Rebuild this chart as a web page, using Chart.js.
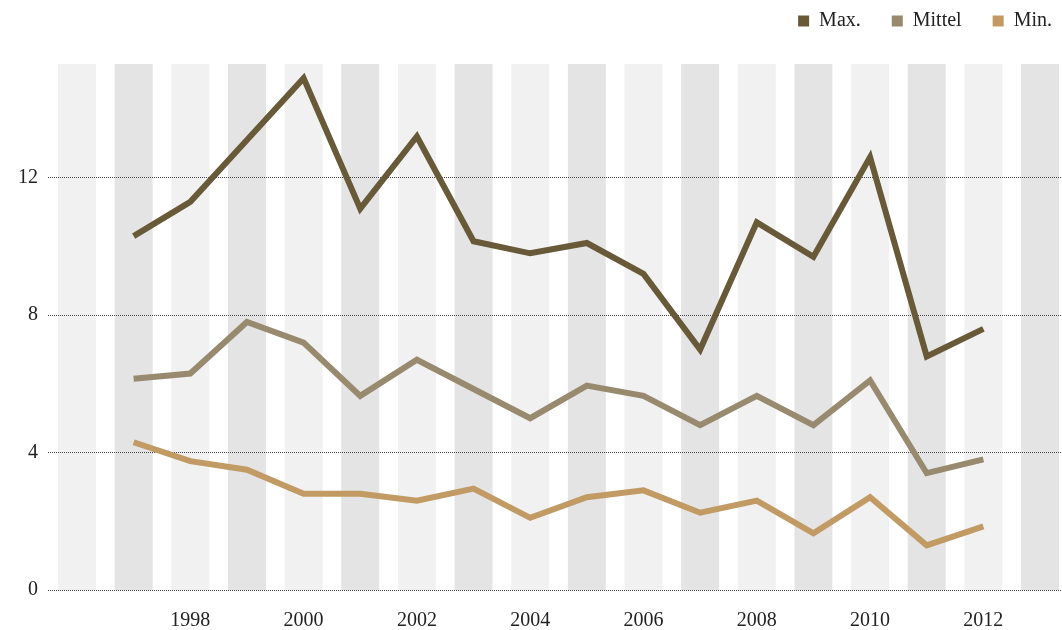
<!DOCTYPE html>
<html>
<head>
<meta charset="utf-8">
<script src="https://cdn.jsdelivr.net/npm/chart.js@4/dist/chart.umd.min.js"></script>
<style>
  html, body { margin: 0; padding: 0; background: #fff; }
  #wrap { width: 1062px; height: 630px; position: relative; }
</style>
</head>
<body>
<div id="wrap"><canvas id="tempChart"></canvas></div>
<script>
// データ
const years = [1997, 1998, 1999, 2000, 2001, 2002, 2003, 2004, 2005, 2006, 2007, 2008, 2009, 2010, 2011, 2012];
const maxValues = [10.3, 11.3, 13.1, 14.9, 11.1, 13.2, 10.15, 9.8, 10.1, 9.2, 7.0, 10.7, 9.7, 12.6, 6.8, 7.6];
const meanValues = [6.15, 6.3, 7.8, 7.2, 5.65, 6.7, 5.85, 5.0, 5.95, 5.65, 4.8, 5.65, 4.8, 6.1, 3.4, 3.8];
const minValues = [4.3, 3.75, 3.5, 2.8, 2.8, 2.6, 2.95, 2.1, 2.7, 2.9, 2.25, 2.6, 1.65, 2.7, 1.3, 1.85];
const bandYears = [1996, 1997, 1998, 1999, 2000, 2001, 2002, 2003, 2004, 2005, 2006, 2007, 2008, 2009, 2010, 2011, 2012, 2013];
const xTickYears = [1998, 2000, 2002, 2004, 2006, 2008, 2010, 2012];
const yTickValues = [0, 4, 8, 12];
const bandTop = 15.31;

const serif = "'Liberation Serif', 'DejaVu Serif', serif";
const textColor = '#222';

// 縦の帯（年ごと、奇数年は濃いグレー）
const bandsPlugin = {
    id: 'yearBands',
    beforeDraw(chart) {
        const { ctx, scales: { x, y } } = chart;
        const half = 0.335;
        ctx.save();
        bandYears.forEach(yr => {
            const left = x.getPixelForValue(yr - half);
            const right = x.getPixelForValue(yr + half);
            const top = y.getPixelForValue(bandTop);
            const bottom = y.getPixelForValue(0);
            ctx.fillStyle = yr % 2 === 1 ? '#e4e4e4' : '#f1f1f1';
            ctx.fillRect(left, top, right - left, bottom - top);
        });
        ctx.restore();
    }
};

function toPoints(values) {
    return values.map((v, i) => ({ x: years[i], y: v }));
}

function lineSet(label, values, color) {
    return {
        label: label,
        data: toPoints(values),
        borderColor: color,
        backgroundColor: color,
        borderWidth: 6,
        pointRadius: 0,
        pointHoverRadius: 0,
        tension: 0,
        fill: false,
        borderJoinStyle: 'miter',
        borderCapStyle: 'butt',
    };
}

new Chart(document.getElementById('tempChart').getContext('2d'), {
    type: 'line',
    data: {
        datasets: [
            lineSet('Max.', maxValues, '#685a38'),
            lineSet('Mittel', meanValues, '#988a6e'),
            lineSet('Min.', minValues, '#c19a64'),
        ]
    },
    options: {
        responsive: true,
        maintainAspectRatio: false,
        animation: false,
        layout: {
            padding: { top: -20, right: -21, left: 0, bottom: 0 }
        },
        plugins: {
            tooltip: { enabled: false },
            legend: {
                position: 'top',
                align: 'end',
                labels: {
                    boxWidth: 11,
                    boxHeight: 11,
                    padding: 31,
                    color: textColor,
                    font: { family: serif, size: 20 },
                    generateLabels(chart) {
                        return Chart.defaults.plugins.legend.labels.generateLabels(chart)
                            .map(item => Object.assign(item, { lineWidth: 0 }));
                    }
                }
            }
        },
        scales: {
            x: {
                type: 'linear',
                min: 1995.488,
                max: 2013.388,
                afterBuildTicks(scale) {
                    scale.ticks = xTickYears.map(v => ({ value: v }));
                },
                afterFit(scale) {
                    scale.height = 40;
                },
                grid: { display: false },
                border: { display: false },
                ticks: {
                    padding: 11,
                    maxRotation: 0,
                    color: textColor,
                    font: { family: serif, size: 20 },
                    callback: v => String(v),
                }
            },
            y: {
                min: 0,
                max: 15.98,
                afterBuildTicks(scale) {
                    scale.ticks = yTickValues.map(v => ({ value: v }));
                },
                afterFit(scale) {
                    scale.width = 48;
                },
                border: { display: false, dash: [1, 1] },
                grid: {
                    color: '#444',
                    lineWidth: 1,
                    drawTicks: false,
                },
                ticks: {
                    padding: 10,
                    color: textColor,
                    font: { family: serif, size: 20 },
                    callback: v => String(v),
                }
            }
        }
    },
    plugins: [bandsPlugin]
});
</script>
</body>
</html>
